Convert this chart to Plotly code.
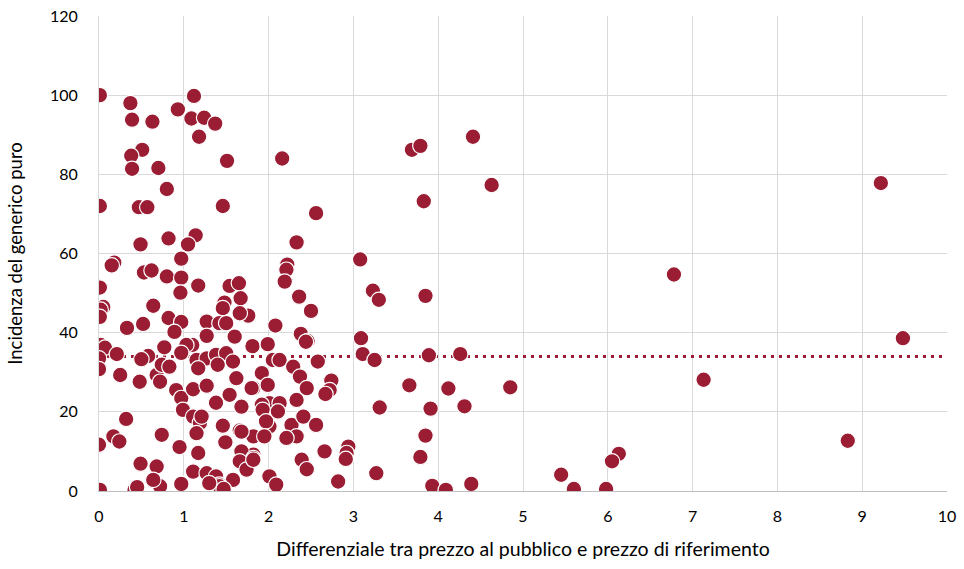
import plotly.graph_objects as go

# Differenziale tra prezzo al pubblico e prezzo di riferimento
x_vals = [
    0.01, 0.37, 1.12, 0.93, 0.39, 0.63, 1.09, 1.24, 1.37, 1.18, 0.51, 0.38, 0.39, 0.70, 1.51, 2.16, 0.80, 0.01, 0.47, 0.57, 1.46, 2.56,
    4.41, 3.69, 3.79, 4.63, 3.83, 9.22, 6.78,
    0.82, 1.14, 1.05, 0.49, 2.33, 0.97, 0.18, 0.15, 3.08, 2.22, 2.21, 0.53, 0.62, 0.80, 0.97, 2.19, 1.17, 1.54, 1.65, 0.01, 0.96,
    3.23, 3.30, 3.85, 2.36, 1.67, 1.48, 1.46, 0.64, 0.05, 0.02, 0.01, 2.50, 1.76, 1.66, 0.82, 0.97, 1.27, 1.42, 1.50, 0.52, 0.33,
    2.08, 0.89, 2.38, 1.27, 1.60, 3.09, 2.46, 9.48,
    0.02, 0.07, 1.10, 1.81, 1.99, 0.77, 1.03, 2.44, 0.00, 0.00, 0.21, 0.25, 0.48, 0.58, 0.50, 0.68, 0.72, 0.74, 0.83, 0.97, 1.15,
    1.27, 1.38, 1.50, 1.17, 1.40, 1.58, 1.62, 1.92, 2.05, 2.13, 2.29, 2.37, 2.45, 2.58, 2.74, 2.72, 2.67, 3.11, 3.25, 3.89, 4.26,
    3.66, 4.12, 4.85, 7.13,
    0.91, 0.97, 1.11, 1.27, 1.38, 1.54, 1.68, 1.82, 1.99, 2.01, 1.80, 1.92, 2.13, 2.33, 0.99, 1.11, 1.19, 1.21, 1.46, 1.66, 1.82,
    2.01, 1.93, 1.97, 2.27, 2.41, 2.56, 2.11, 3.31, 3.91, 4.31,
    0.32, 0.17, 0.24, 0.00, 0.74, 0.95, 1.15, 1.17, 1.49, 1.68, 1.82, 1.95, 2.33, 2.21, 1.68, 1.82, 1.66, 2.66, 2.39, 2.45, 2.94,
    2.92, 2.91, 3.85, 3.79, 8.83, 6.13, 6.05,
    0.49, 0.68, 1.11, 1.27, 1.38, 1.58, 1.42, 1.74, 1.82, 2.01, 0.01, 0.42, 0.72, 0.64, 0.97, 2.09, 2.82, 3.27, 3.93, 4.09, 4.39,
    5.45, 5.60, 5.98, 1.42, 1.47, 0.45, 1.30,
]

# Incidenza del generico puro
y_vals = [
    100.0, 98.0, 99.8, 96.4, 93.8, 93.3, 94.1, 94.3, 92.8, 89.5, 86.2, 84.7, 81.4, 81.6, 83.4, 84.0, 76.3, 72.0, 71.7, 71.7, 72.0, 70.2,
    89.5, 86.2, 87.2, 77.3, 73.2, 77.8, 54.7,
    63.8, 64.6, 62.3, 62.3, 62.8, 58.7, 57.7, 57.0, 58.5, 57.2, 55.9, 55.2, 55.7, 54.2, 53.9, 52.9, 51.9, 51.8, 52.5, 51.4, 50.1,
    50.6, 48.3, 49.3, 49.1, 48.7, 47.6, 46.2, 46.8, 46.5, 45.8, 44.0, 45.5, 44.3, 44.9, 43.7, 42.7, 42.8, 42.4, 42.4, 42.2, 41.2,
    41.8, 40.2, 39.7, 39.2, 39.0, 38.6, 37.9, 38.6,
    36.9, 36.2, 36.9, 36.6, 37.1, 36.3, 36.9, 37.7, 33.5, 30.8, 34.6, 29.3, 27.6, 34.1, 33.3, 29.3, 27.6, 31.9, 31.4, 34.9, 33.1,
    33.5, 34.4, 34.8, 31.0, 31.9, 32.7, 28.5, 29.8, 33.1, 33.1, 31.4, 28.9, 26.0, 32.7, 27.9, 25.5, 24.5, 34.6, 33.1, 34.3, 34.6,
    26.7, 25.9, 26.2, 28.1,
    25.5, 23.5, 25.7, 26.6, 22.3, 24.3, 21.3, 26.0, 26.8, 22.2, 26.0, 21.8, 22.2, 23.0, 20.5, 18.8, 17.2, 18.8, 16.5, 15.3, 13.8,
    16.3, 20.5, 17.6, 16.7, 18.8, 16.7, 20.1, 21.1, 20.8, 21.4,
    18.2, 13.8, 12.5, 11.7, 14.2, 11.1, 14.6, 9.6, 12.3, 15.0, 9.2, 13.8, 13.8, 13.4, 10.0, 8.3, 7.5, 10.0, 7.9, 5.5, 11.2,
    9.6, 8.1, 14.0, 8.6, 12.7, 9.4, 7.5,
    6.9, 6.2, 4.9, 4.5, 3.7, 2.8, 1.6, 5.4, 7.9, 3.7, 0.3, 0.3, 1.2, 2.8, 1.8, 1.6, 2.4, 4.5, 1.3, 0.3, 1.8,
    4.1, 0.5, 0.5, 1.2, 0.5, 1.0, 2.0,
]

# media (linea punteggiata)
mean_x = [0, 10]
mean_y = [34.0, 34.0]

RED = '#9b1d33'

fig = go.Figure()

fig.add_trace(go.Scatter(
    x=mean_x, y=mean_y,
    mode='lines',
    line=dict(color=RED, width=3, dash='3px,5px'),
    hoverinfo='skip',
    showlegend=False
))

fig.add_trace(go.Scatter(
    x=x_vals, y=y_vals,
    mode='markers',
    marker=dict(size=15.5, color=RED, line=dict(color='white', width=1.2)),
    showlegend=False
))

fig.update_layout(
    width=964, height=569,
    margin=dict(l=99, r=17, t=16, b=78),
    paper_bgcolor='white',
    plot_bgcolor='white',
    font=dict(family='Lato, Carlito, Calibri, sans-serif', size=16, color='#000000'),
    showlegend=False
)

fig.update_xaxes(
    range=[0, 10],
    dtick=1,
    automargin=False,
    showgrid=True, gridcolor='#d9d9d9', gridwidth=1,
    zeroline=False,
    showline=True, linecolor='#bfbfbf', linewidth=1,
    ticks='',
    ticklabelstandoff=11,
    ticklabeloverflow='allow',
    tickfont=dict(size=16),
    title=dict(text='Differenziale tra prezzo al pubblico e prezzo di riferimento',
               font=dict(size=19.5), standoff=18)
)

fig.update_yaxes(
    range=[0, 120],
    dtick=20,
    automargin=False,
    showgrid=True, gridcolor='#d9d9d9', gridwidth=1,
    zeroline=False,
    showline=True, linecolor='#d9d9d9', linewidth=1,
    ticks='',
    ticklabelstandoff=17,
    ticklabeloverflow='allow',
    tickfont=dict(size=16),
    title=dict(text='Incidenza del generico puro', font=dict(size=18.5), standoff=22)
)

# niente margine sul body, cosi' il grafico occupa tutta la finestra
fig.write_html("out.html",
               config={'displayModeBar': False},
               post_script="document.body.style.margin='0';")
